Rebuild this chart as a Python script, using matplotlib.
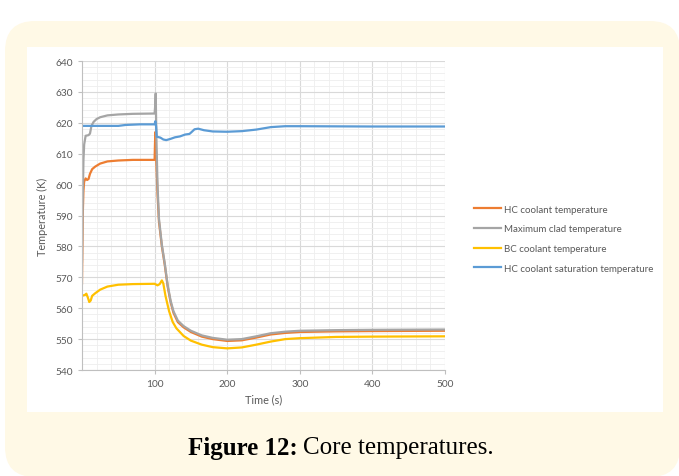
import matplotlib
matplotlib.use("Agg")
from matplotlib import pyplot as plt
from matplotlib.patches import FancyBboxPatch, Rectangle

# HC coolant temperature
t_hc = [0, 1, 2, 3, 5, 7, 9, 11, 14, 18, 25, 35, 50, 70, 100, 100.5, 101, 102, 104, 106, 110, 114, 118,
        122, 126, 132, 140, 150, 165, 180, 200, 220, 240, 260, 280, 300, 350, 400, 500]
T_hc = [568, 590, 598, 601, 602, 601.5, 601.8, 603.5, 605, 605.8, 606.8, 607.5, 607.8, 608, 608, 613, 617, 610,
        597, 588, 580, 574, 567, 562, 558.5, 555.5, 553.8, 552.3, 550.8, 550, 549.4, 549.6, 550.5, 551.5, 552,
        552.3, 552.5, 552.6, 552.7]

# Maximum clad temperature
t_clad = [0, 1, 2, 3, 5, 9, 11, 13, 16, 20, 25, 35, 50, 70, 100, 101, 101.5, 102.5, 104, 106, 110, 114, 118,
          122, 126, 132, 140, 150, 165, 180, 200, 220, 240, 260, 280, 300, 350, 400, 500]
T_clad = [575, 595, 608, 613, 615.8, 616, 616.5, 619, 620.3, 621.2, 621.8, 622.4, 622.7, 622.9, 623, 626, 629.5,
          615, 600, 589, 580.5, 574.5, 567.5, 562.5, 559, 556, 554.2, 552.7, 551.2, 550.4, 549.8, 550, 550.9,
          551.9, 552.4, 552.7, 552.9, 553, 553.1]

# BC coolant temperature
t_bc = [0, 4, 6, 8, 10, 12, 14, 18, 25, 35, 50, 70, 100, 104, 107, 110, 112, 115, 120, 125, 130, 140, 150,
        165, 180, 200, 220, 240, 260, 280, 300, 350, 400, 500]
T_bc = [564, 564.3, 564.7, 563.5, 562, 562.5, 564, 564.8, 566, 567, 567.6, 567.8, 567.9, 567.4, 567.8, 569,
        568, 564, 559, 555.5, 553.5, 551, 549.5, 548.2, 547.4, 547, 547.3, 548.2, 549.2, 550, 550.3, 550.7,
        550.8, 550.9]

# HC coolant saturation temperature
t_sat = [0, 50, 60, 80, 100, 101, 102, 103, 108, 112, 116, 122, 128, 135, 142, 148, 150, 155, 160, 168, 180,
         200, 220, 240, 260, 280, 300, 400, 500]
T_sat = [619, 619, 619.3, 619.5, 619.5, 620.5, 619, 615.5, 615.2, 614.6, 614.4, 614.8, 615.3, 615.6, 616.2,
         616.4, 616.8, 617.9, 618.1, 617.6, 617.2, 617.1, 617.3, 617.8, 618.6, 618.9, 618.9, 618.8, 618.8]

labels = ["HC coolant temperature", "Maximum clad temperature", "BC coolant temperature",
          "HC coolant saturation temperature"]
colors = ["#ED7D31", "#A5A5A5", "#FFC000", "#5B9BD5"]

W, H = 679.0, 477.0
fig = plt.figure(figsize=(6.79, 4.77), dpi=100)
fig.patch.set_facecolor("white")

# background layer in pixel units (y down)
bg = fig.add_axes([0, 0, 1, 1], zorder=-5)
bg.set_xlim(0, W)
bg.set_ylim(H, 0)
bg.axis("off")
bg.add_patch(FancyBboxPatch((5, 22), 675, 456, boxstyle="round,pad=0,rounding_size=30",
                            facecolor="#FFF9E6", edgecolor="none"))
bg.add_patch(Rectangle((27, 48), 663 - 27, 413 - 48, facecolor="white", edgecolor="none"))

plt.rcParams["font.family"] = ["Lato", "DejaVu Sans"]

ax = fig.add_axes([82 / W, (H - 371) / H, (445 - 82) / W, (371 - 62) / H])
ax.set_facecolor("none")

for tt, TT, lab, c in zip([t_hc, t_clad, t_bc, t_sat], [T_hc, T_clad, T_bc, T_sat], labels, colors):
    ax.plot(tt, TT, color=c, lw=1.6, label=lab)

ax.set_xlim(0, 500)
ax.set_ylim(540, 640)
ax.set_xticks([100, 200, 300, 400, 500])
ax.set_xticks(range(0, 501, 20), minor=True)
ax.set_yticks(range(540, 641, 10))
ax.set_yticks(range(540, 641, 2), minor=True)
ax.grid(which="major", color="#D9D9D9", lw=0.8)
ax.grid(which="minor", color="#EEEEEE", lw=0.6)
ax.set_axisbelow(True)

for s in ["top", "right"]:
    ax.spines[s].set_visible(False)
for s in ["left", "bottom"]:
    ax.spines[s].set_color("#BFBFBF")
    ax.spines[s].set_linewidth(0.8)
ax.tick_params(which="major", colors="#BFBFBF", labelcolor="#595959", labelsize=7.3, length=3, width=0.8)
ax.tick_params(which="minor", length=0)

ax.set_xlabel("Time (s)", fontsize=7.8, color="#595959", labelpad=4)
ax.set_ylabel("Temperature (K)", fontsize=7.8, color="#595959", labelpad=5)

leg = ax.legend(loc="upper left", bbox_to_anchor=(465 / W, 1 - 197 / H), bbox_transform=fig.transFigure,
                frameon=False, fontsize=7.0, handlelength=2.8, labelspacing=1.1, handletextpad=0.3)
for txt in leg.get_texts():
    txt.set_color("#595959")

# caption: bold part and regular part
fig.text(298 / W, 1 - 448 / H, "Figure 12:", ha="right", va="center", fontsize=18,
         fontweight="bold", family="Liberation Serif")
fig.text(303 / W, 1 - 448 / H, "Core temperatures.", ha="left", va="center", fontsize=18,
         family="Liberation Serif")

fig.savefig("out.png", dpi=100)
